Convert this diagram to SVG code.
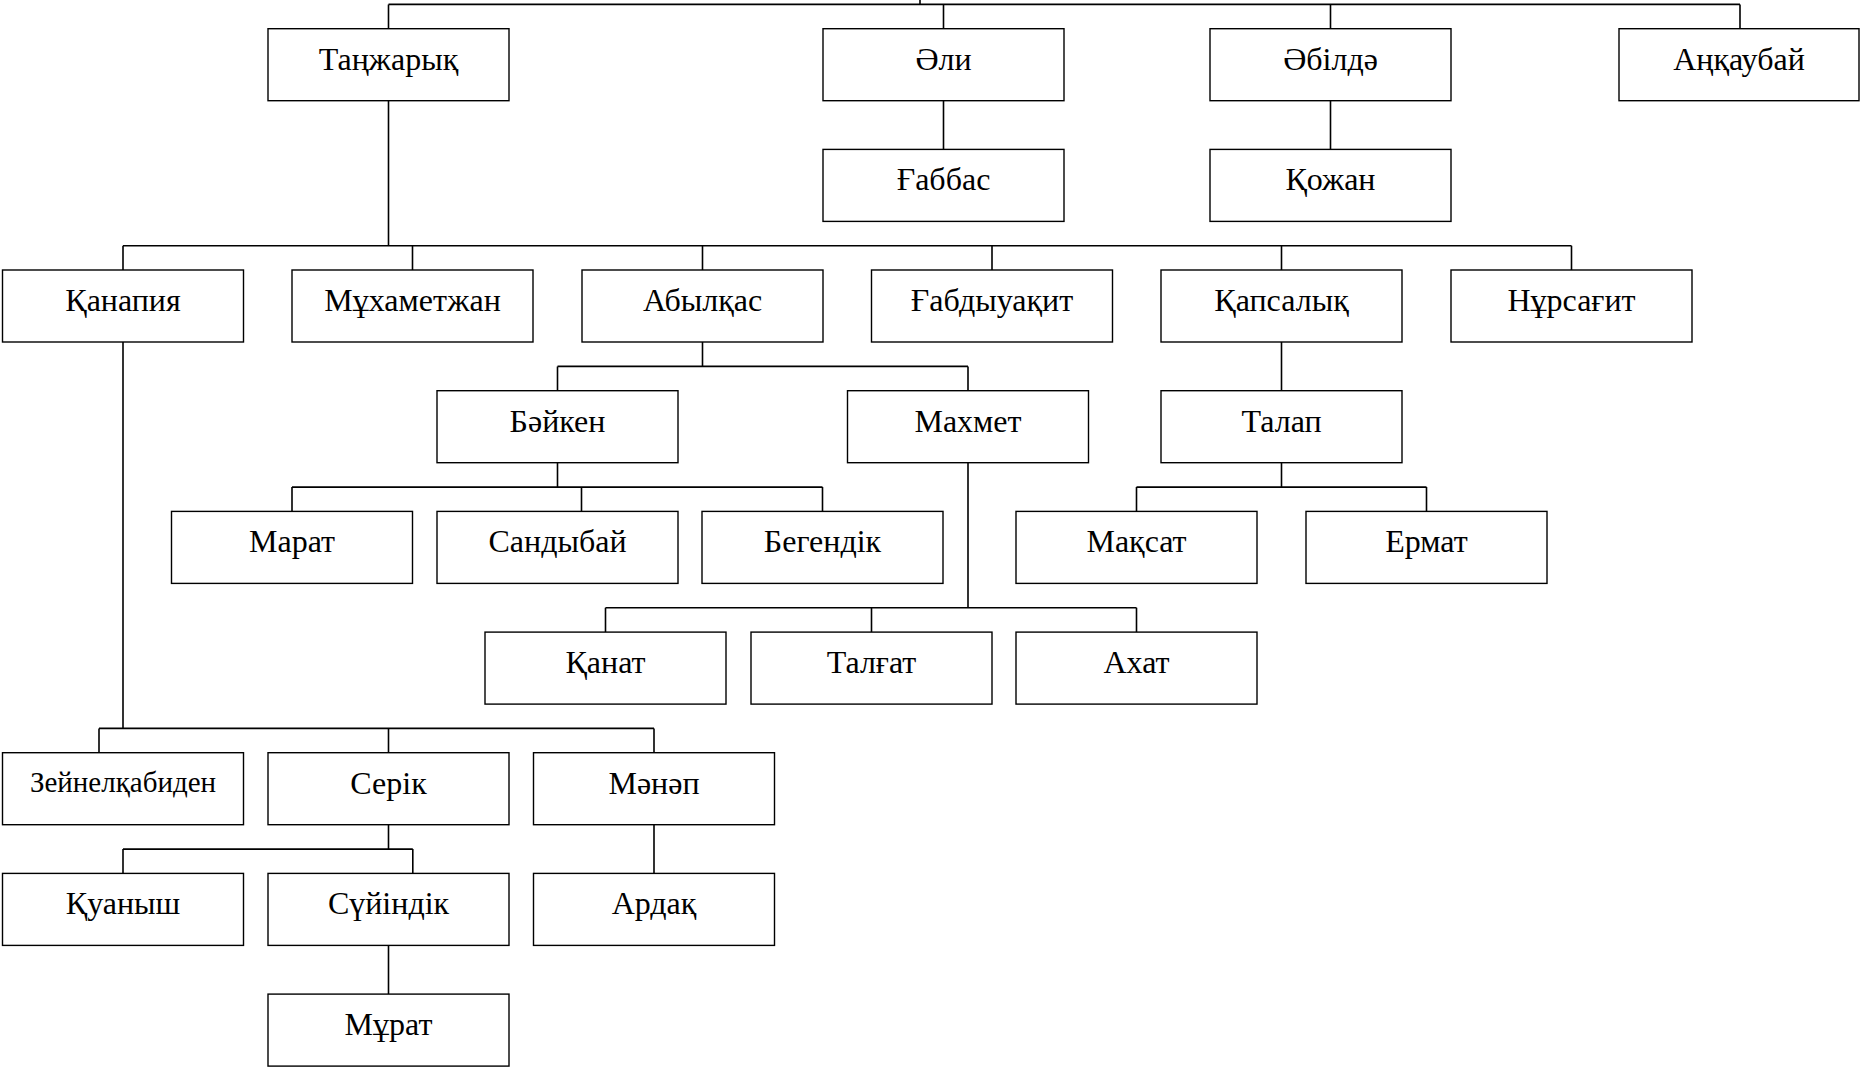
<svg xmlns="http://www.w3.org/2000/svg" width="1860" height="1069" viewBox="0 0 1860 1069">
<style>
.n rect{fill:#fff;stroke:#000;stroke-width:1.4}
.n text{font-family:"Liberation Serif","Times New Roman",serif;font-size:32px;fill:#000;text-anchor:middle}
.n text.s{font-size:29px}
#connectors path{fill:none;stroke:#000;stroke-width:1.6}
</style>
<rect width="1860" height="1069" fill="#fff"/>
<g id="connectors">
<path d="M920,0V4.4M388.5,4.4H1740M388.5,4.4V28.7M943.5,4.4V28.7M1330.5,4.4V28.7M1740,4.4V28.7"/>
<path d="M943.5,100.7V149.4M1330.5,100.7V149.4"/>
<path d="M388.5,100.7V245.7M123,245.7H1571.5M123,245.7V270M412.5,245.7V270M702.5,245.7V270M992,245.7V270M1281.5,245.7V270M1571.5,245.7V270"/>
<path d="M702.5,342V366.4M557.5,366.4H968M557.5,366.4V390.7M968,366.4V390.7"/>
<path d="M1281.5,342V390.7"/>
<path d="M557.5,462.7V487.1M292,487.1H822.5M292,487.1V511.4M581.5,487.1V511.4M822.5,487.1V511.4"/>
<path d="M1281.5,462.7V487.1M1136.5,487.1H1426.5M1136.5,487.1V511.4M1426.5,487.1V511.4"/>
<path d="M968,462.7V607.8M605.5,607.8H1136.5M605.5,607.8V632.1M871.5,607.8V632.1M1136.5,607.8V632.1"/>
<path d="M123,342V728.4M99,728.4H654M99,728.4V752.7M388.5,728.4V752.7M654,728.4V752.7"/>
<path d="M388.5,824.7V849.1M123,849.1H412.8M123,849.1V873.4M412.8,849.1V873.4"/>
<path d="M654,824.7V873.4M388.5,945.4V994.1"/>
</g>
<g id="n-tanzharyk" class="n"><rect x="268" y="28.7" width="241" height="72"/><text x="388.5" y="69.7">Таңжарық</text></g>
<g id="n-ali" class="n"><rect x="823" y="28.7" width="241" height="72"/><text x="943.5" y="69.7">Әли</text></g>
<g id="n-abilda" class="n"><rect x="1210" y="28.7" width="241" height="72"/><text x="1330.5" y="69.7">Әбілдә</text></g>
<g id="n-ankaubai" class="n"><rect x="1619" y="28.7" width="240" height="72"/><text x="1739" y="69.7">Аңқаубай</text></g>
<g id="n-gabbas" class="n"><rect x="823" y="149.4" width="241" height="72"/><text x="943.5" y="190.4">Ғаббас</text></g>
<g id="n-kozhan" class="n"><rect x="1210" y="149.4" width="241" height="72"/><text x="1330.5" y="190.4">Қожан</text></g>
<g id="n-kanapiya" class="n"><rect x="2.5" y="270" width="241" height="72"/><text x="123" y="311">Қанапия</text></g>
<g id="n-mukhametzhan" class="n"><rect x="292" y="270" width="241" height="72"/><text x="412.5" y="311">Мұхаметжан</text></g>
<g id="n-abylkas" class="n"><rect x="582" y="270" width="241" height="72"/><text x="702.5" y="311">Абылқас</text></g>
<g id="n-gabdyuakit" class="n"><rect x="871.5" y="270" width="241" height="72"/><text x="992" y="311">Ғабдыуақит</text></g>
<g id="n-kapsalyk" class="n"><rect x="1161" y="270" width="241" height="72"/><text x="1281.5" y="311">Қапсалық</text></g>
<g id="n-nursagit" class="n"><rect x="1451" y="270" width="241" height="72"/><text x="1571.5" y="311">Нұрсағит</text></g>
<g id="n-baiken" class="n"><rect x="437" y="390.7" width="241" height="72"/><text x="557.5" y="431.7">Бәйкен</text></g>
<g id="n-makhmet" class="n"><rect x="847.5" y="390.7" width="241" height="72"/><text x="968" y="431.7">Махмет</text></g>
<g id="n-talap" class="n"><rect x="1161" y="390.7" width="241" height="72"/><text x="1281.5" y="431.7">Талап</text></g>
<g id="n-marat" class="n"><rect x="171.5" y="511.4" width="241" height="72"/><text x="292" y="552.4">Марат</text></g>
<g id="n-sandybai" class="n"><rect x="437" y="511.4" width="241" height="72"/><text x="557.5" y="552.4">Сандыбай</text></g>
<g id="n-begendik" class="n"><rect x="702" y="511.4" width="241" height="72"/><text x="822.5" y="552.4">Бегендік</text></g>
<g id="n-maksat" class="n"><rect x="1016" y="511.4" width="241" height="72"/><text x="1136.5" y="552.4">Мақсат</text></g>
<g id="n-ermat" class="n"><rect x="1306" y="511.4" width="241" height="72"/><text x="1426.5" y="552.4">Ермат</text></g>
<g id="n-kanat" class="n"><rect x="485" y="632.1" width="241" height="72"/><text x="605.5" y="673.1">Қанат</text></g>
<g id="n-talgat" class="n"><rect x="751" y="632.1" width="241" height="72"/><text x="871.5" y="673.1">Талғат</text></g>
<g id="n-akhat" class="n"><rect x="1016" y="632.1" width="241" height="72"/><text x="1136.5" y="673.1">Ахат</text></g>
<g id="n-zeinelkabiden" class="n"><rect x="2.5" y="752.7" width="241" height="72"/><text class="s" x="123" y="791.7">Зейнелқабиден</text></g>
<g id="n-serik" class="n"><rect x="268" y="752.7" width="241" height="72"/><text x="388.5" y="793.7">Серік</text></g>
<g id="n-manap" class="n"><rect x="533.5" y="752.7" width="241" height="72"/><text x="654" y="793.7">Мәнәп</text></g>
<g id="n-kuanysh" class="n"><rect x="2.5" y="873.4" width="241" height="72"/><text x="123" y="914.4">Қуаныш</text></g>
<g id="n-suiindik" class="n"><rect x="268" y="873.4" width="241" height="72"/><text x="388.5" y="914.4">Сүйіндік</text></g>
<g id="n-ardak" class="n"><rect x="533.5" y="873.4" width="241" height="72"/><text x="654" y="914.4">Ардақ</text></g>
<g id="n-murat" class="n"><rect x="268" y="994.1" width="241" height="72"/><text x="388.5" y="1035.1">Мұрат</text></g>
</svg>
